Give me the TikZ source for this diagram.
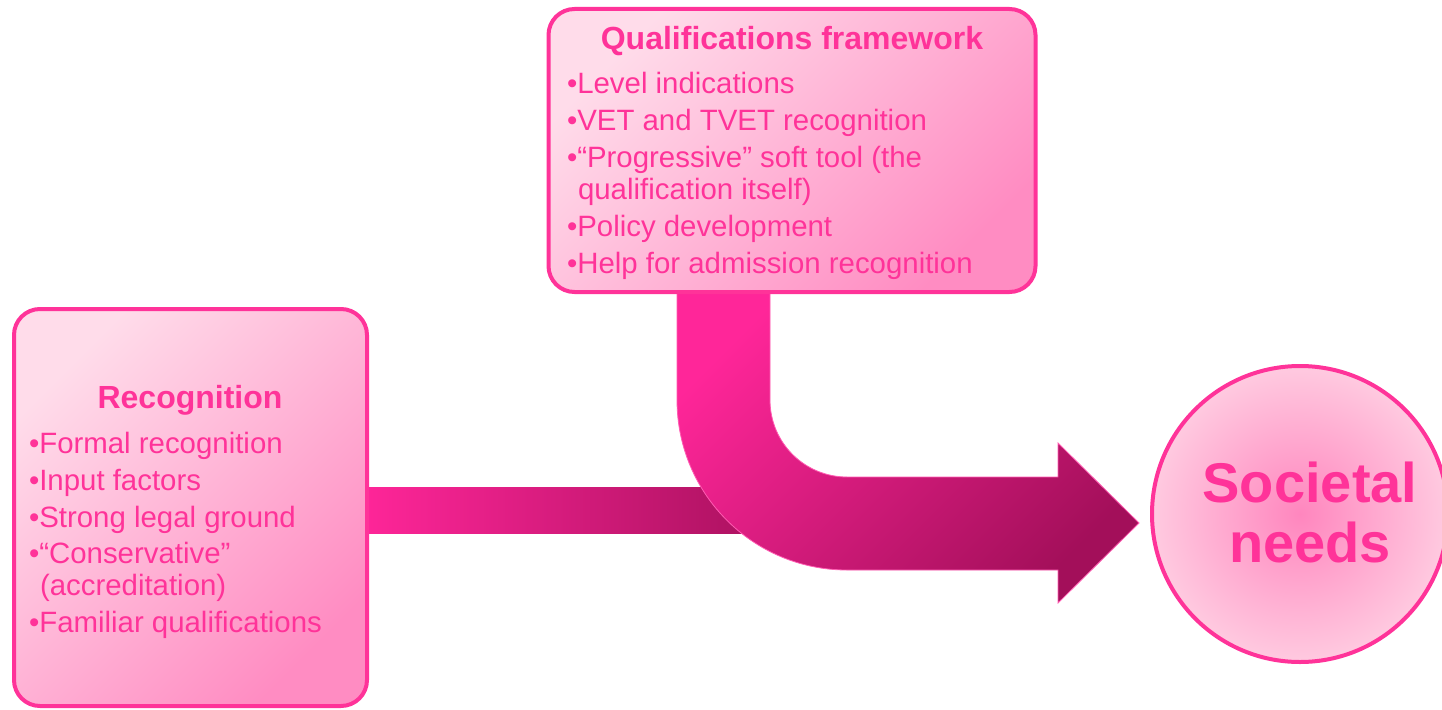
\documentclass[tikz,border=0pt]{standalone}
\usepackage{fontspec}
\setmainfont{Liberation Sans}
\definecolor{hp}{HTML}{FF3399}
\definecolor{boxlight}{HTML}{FFDCEA}
\definecolor{boxdark}{HTML}{FF8CC2}
\definecolor{arrbright}{HTML}{FF2699}
\definecolor{arrdark}{HTML}{A30F5A}
\definecolor{arredge}{HTML}{FF5CB2}
\definecolor{circin}{HTML}{FF86BE}
\definecolor{circout}{HTML}{FFCAE0}
\tikzset{
  pinkbox/.style={draw=hp, line width=4pt, rounded corners=26pt,
    top color=boxlight, bottom color=boxdark, shading angle=45},
  item/.style={anchor=base west, text=hp, font=\fontsize{29.4}{32}\selectfont},
  ttl/.style={anchor=base, text=hp, font=\fontsize{32}{36}\selectfont\bfseries},
  big/.style={anchor=base, text=hp, font=\fontsize{56}{60}\selectfont\bfseries},
}
\begin{document}
\begin{tikzpicture}[x=1pt,y=-1pt,inner sep=0pt,outer sep=0pt]
\useasboundingbox (0,0) rectangle (1442,709);
% horizontal bar from Recognition
\coordinate (barA) at (360,487);
\coordinate (barB) at (760,533);
\shade[left color=arrbright, right color=arrdark!90!arrbright] (barA) rectangle (barB);
% curved arrow
\coordinate (c) at (847,400);
\path[draw=arredge, line width=0.8pt, top color=arrbright, bottom color=arrdark, shading angle=45]
  (677,280) -- (677,400) arc (180:90:170) -- (1058,570) -- (1058,603) -- (1139,523)
  -- (1058,443) -- (1058,477) -- (847,477) arc (90:180:77) -- (770,280) -- cycle;
% boxes
\node[pinkbox, minimum width=487pt, minimum height=283pt] (qf) at (792,150.5) {};
\node[pinkbox, minimum width=353pt, minimum height=397pt] (rec) at (190.5,507.5) {};
% circle
\node[circle, draw=hp, line width=4pt, minimum size=296pt, inner color=circin, outer color=circout] (soc) at (1300,514) {};
\node[big] (s1) at (1310,502) {Societal};
\node[big] (s2) at (1310,562) {needs};
% top box text
\node[ttl] (qft) at (792,49) {Qualifications framework};
\node[item] (q1) at (567,93) {•Level indications};
\node[item] (q2) at (567,130) {•VET and TVET recognition};
\node[item] (q3) at (567,167) {•“Progressive” soft tool (the};
\node[item] (q3b) at (578,199) {qualification itself)};
\node[item] (q4) at (567,236) {•Policy development};
\node[item] (q5) at (567,273) {•Help for admission recognition};
% left box text
\node[ttl] (rect) at (190,408) {Recognition};
\node[item] (r1) at (29,453) {•Formal recognition};
\node[item] (r2) at (29,490) {•Input factors};
\node[item] (r3) at (29,527) {•Strong legal ground};
\node[item] (r4) at (29,563) {•“Conservative”};
\node[item] (r4b) at (40,595) {(accreditation)};
\node[item] (r5) at (29,632) {•Familiar qualifications};
\end{tikzpicture}
\end{document}
